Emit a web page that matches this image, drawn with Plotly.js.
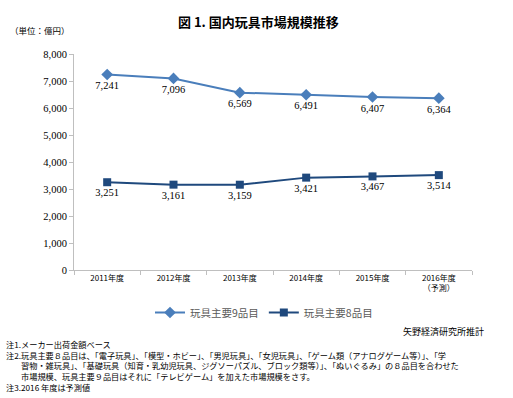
<!DOCTYPE html>
<html><head><meta charset="utf-8">
<script src="https://cdn.plot.ly/plotly-3.0.1.min.js"></script>
<style>html,body{margin:0;padding:0;background:#fff}#c{width:513px;height:398px}</style>
</head><body><div id="c"></div>
<script>
const categories = ["2011年度","2012年度","2013年度","2014年度","2015年度","2016年度<br>（予測）"];
const series9 = [7241,7096,6569,6491,6407,6364];
const series8 = [3251,3161,3159,3421,3467,3514];
const name9 = "玩具主要9品目";
const name8 = "玩具主要8品目";
const yTicks = [0,1000,2000,3000,4000,5000,6000,7000,8000];
const indent = "<span style='color:#ffffff'>注2.</span>";
const notes = [
 "注1.メーカー出荷金額ベース",
 "注2.玩具主要８品目は、「電子玩具」、「模型・ホビー」、「男児玩具」、「女児玩具」、「ゲーム類（アナログゲーム等）」、「学",
 indent + "習物・雑玩具」、「基礎玩具（知育・乳幼児玩具、ジグソーパズル、ブロック類等）」、「ぬいぐるみ」の８品目を合わせた",
 indent + "市場規模、玩具主要９品目はそれに「テレビゲーム」を加えた市場規模をさす。",
 "注3.2016 年度は予測値"
];
const fmt = v => v.toLocaleString('en-US');
const jp = '"Noto Sans CJK JP", sans-serif';
const serif = '"Liberation Serif", "Noto Serif CJK JP", serif';

const traces = [
 {x: categories, y: series9, name: name9, type:'scatter', mode:'lines+markers+text',
  line:{color:'#4a7ebb', width:2}, marker:{symbol:'diamond', size:9, color:'#4a7ebb'},
  text: series9.map(fmt), textposition:'bottom center', textfont:{family:serif,size:10.5,color:'#000'}, cliponaxis:false},
 {x: categories, y: series8, name: name8, type:'scatter', mode:'lines+markers+text',
  line:{color:'#1f497d', width:2}, marker:{symbol:'square', size:8, color:'#1f497d'},
  text: series8.map(fmt), textposition:'bottom center', textfont:{family:serif,size:10.5,color:'#000'}, cliponaxis:false}
];

const W=513,H=398,L=74,R=41,T=54,B=128;
const pw=W-L-R, ph=H-T-B;
function px(x){return (x-L)/pw;}
function py(y){return (H-B-y)/ph;}
const ann = [];
ann.push({text:'<b>図 1. 国内玩具市場規模推移</b>', x:px(258), y:py(21), xref:'paper', yref:'paper', showarrow:false, xanchor:'center', yanchor:'middle', font:{family:jp,size:13,color:'#000'}});
ann.push({text:'（単位：億円）', x:px(8), y:py(30), xref:'paper', yref:'paper', showarrow:false, xanchor:'left', yanchor:'middle', font:{family:jp,size:8.5,color:'#000'}});
ann.push({text:'矢野経済研究所推計', x:px(486), y:py(331), xref:'paper', yref:'paper', showarrow:false, xanchor:'right', yanchor:'middle', font:{family:jp,size:9,color:'#000'}});
ann.push({text:notes.join('<br>'), x:px(5), y:py(337), xref:'paper', yref:'paper', showarrow:false, xanchor:'left', yanchor:'top', align:'left', borderpad:0, font:{family:jp,size:8.2,color:'#000'}});

const layout = {
 width:W, height:H, margin:{l:L,r:R,t:T,b:B}, paper_bgcolor:'#fff', plot_bgcolor:'#fff',
 showlegend:true,
 legend:{orientation:'h', x:px(150), y:py(298), xanchor:'left', yanchor:'top', font:{family:jp,size:10.5,color:'#595959'}, itemwidth:30, tracegroupgap:0},
 xaxis:{type:'category', showgrid:false, showline:true, linecolor:'#bfbfbf', linewidth:1, ticks:'outside', tickson:'boundaries', ticklen:4, tickcolor:'#bfbfbf', tickfont:{family:jp,size:8,color:'#000'}, zeroline:false, range:[-0.5,5.5]},
 yaxis:{range:[0,8000], tickvals:yTicks, ticktext:yTicks.map(fmt), showgrid:false, showline:true, linecolor:'#bfbfbf', linewidth:1, ticks:'outside', ticklen:4, tickcolor:'#bfbfbf', tickfont:{family:serif,size:10.5,color:'#000'}, zeroline:false},
 annotations: ann
};
Plotly.newPlot('c', traces, layout, {displayModeBar:false, staticPlot:true});
</script></body></html>
